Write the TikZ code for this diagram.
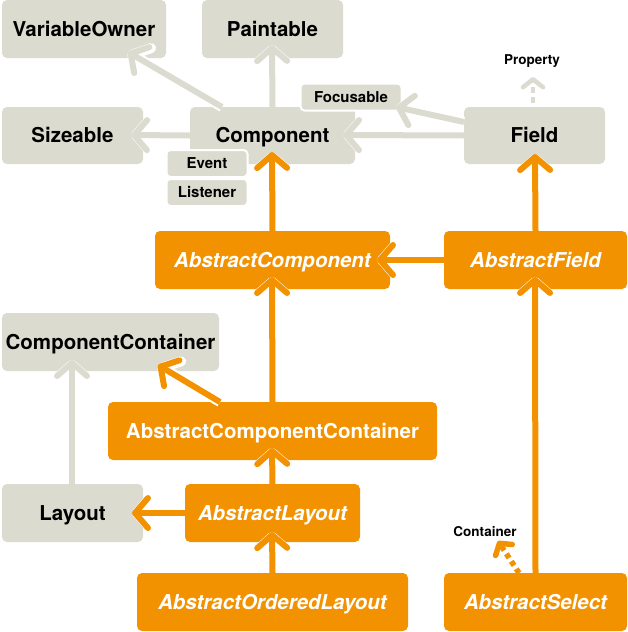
\documentclass[tikz,border=0pt]{standalone}
\usepackage{fontspec}
\setmainfont{TeX Gyre Heros}
\usetikzlibrary{arrows.meta}
\definecolor{gr}{RGB}{220,219,208}
\definecolor{og}{RGB}{243,146,0}
\begin{document}
\begin{tikzpicture}[x=1pt,y=-1pt,
  box/.style={rounded corners=5pt, inner sep=0pt, minimum height=58pt,
    text height=14.7pt, text depth=0pt,
    font=\fontsize{20.5}{24}\selectfont\bfseries},
  gbox/.style={box, fill=gr, text=black},
  obox/.style={box, fill=og, text=white},
  ital/.style={font=\fontsize{20.5}{24}\selectfont\bfseries\itshape},
  sbox/.style={rounded corners=4pt, inner sep=0pt, fill=gr, draw=white, line width=2pt,
    text height=10.8pt, text depth=0pt,
    font=\fontsize{15}{18}\selectfont\bfseries},
  lbl/.style={inner sep=0pt, font=\fontsize{13.5}{16}\selectfont\bfseries},
  tipA/.style={-{Straight Barb[length=13pt,width=30pt,round]}},
  garr/.style={gr, line width=6pt, tipA, preaction={draw=white, line width=10pt}},
  oarr/.style={og, line width=6pt, tipA, preaction={draw=white, line width=10pt}},
  tipB/.style={-{Straight Barb[length=8pt,width=20pt,round]}},
]
\useasboundingbox (0,0) rectangle (628,632);
% gray boxes
\node[gbox, minimum width=164pt] (vo) at (84,29) {VariableOwner};
\node[gbox, minimum width=141pt] (pa) at (272.5,29) {Paintable};
\node[gbox, minimum width=141pt, minimum height=57pt] (si) at (72.5,135.5) {Sizeable};
\node[gbox, minimum width=165pt, minimum height=57pt] (co) at (272.5,135.5) {Component};
\node[gbox, minimum width=141pt, minimum height=57pt] (fi) at (534.5,135.5) {Field};
\node[sbox, minimum width=101pt, minimum height=27pt] (fo) at (351,97) {Focusable};
\node[sbox, minimum width=81pt, minimum height=27pt] (ev) at (207,163.5) {Event};
\node[sbox, minimum width=81pt, minimum height=27pt] (li) at (207,192.5) {Listener};
\node[gbox, minimum width=217pt] (cc) at (110.5,342) {ComponentContainer};
\node[gbox, minimum width=141pt] (la) at (72.5,513) {Layout};
% orange boxes
\node[obox, ital, minimum width=235pt] (ac) at (272.5,260) {AbstractComponent};
\node[obox, ital, minimum width=183pt] (af) at (535.5,260) {AbstractField};
\node[obox, minimum width=329pt] (acc) at (272.5,431) {AbstractComponentContainer};
\node[obox, ital, minimum width=175pt] (al) at (272.5,513) {AbstractLayout};
\node[obox, ital, minimum width=271pt] (aol) at (272.5,602) {AbstractOrderedLayout};
\node[obox, ital, minimum width=183pt] (as) at (535.5,602) {AbstractSelect};
% labels
\node[lbl] (pr) at (532,61) {Property};
\node[lbl] (ct) at (485,532) {Container};
% coordinates for arrow ends
\coordinate (coTL) at (222,107);
\coordinate (voT) at (128,52);
\coordinate (paT) at (272,45);
\coordinate (siT) at (131,135);
\coordinate (fiL) at (464,122);
\coordinate (foT) at (396,107);
\coordinate (coR) at (343,135);
\coordinate (fiTop) at (533,103);
\coordinate (prT) at (533,77);
\coordinate (coB) at (272,152);
\coordinate (fiB) at (535,154);
\coordinate (acR) at (377,260);
\coordinate (acB) at (272,277);
\coordinate (accTL) at (220,402);
\coordinate (ccT) at (158,365);
\coordinate (ccB) at (72,360);
\coordinate (accB) at (272,448);
\coordinate (laR) at (132,513);
\coordinate (alB) at (272,532);
\coordinate (afB) at (535,277);
\coordinate (asTL) at (519,573);
\coordinate (ctT) at (498,541);
% gray arrows
\draw[garr] (coTL) -- (voT);
\draw[garr] (co.north) -- (paT);
\draw[garr] (co.west) -- (siT);
\draw[garr] (fiL) -- (foT);
\draw[garr] (fi.west) -- (coR);
\draw[garr] (la.north -| ccB) -- (ccB);
\draw[gr, line width=4.5pt, tipB, dash pattern=on 6pt off 4pt] (fiTop) -- (prT);
% orange arrows
\draw[oarr] (ac.north) -- (coB);
\draw[oarr] (af.north) -- (fiB);
\draw[oarr] (af.west) -- (acR);
\draw[oarr] (acc.north) -- (acB);
\draw[oarr] (accTL) -- (ccT);
\draw[oarr] (al.north) -- (accB);
\draw[oarr] (al.west) -- (laR);
\draw[oarr] (aol.north) -- (alB);
\draw[oarr] (as.north) -- (afB);
\draw[og, line width=5.5pt, tipB, dash pattern=on 5pt off 4pt] (asTL) -- (ctT);
\end{tikzpicture}
\end{document}
